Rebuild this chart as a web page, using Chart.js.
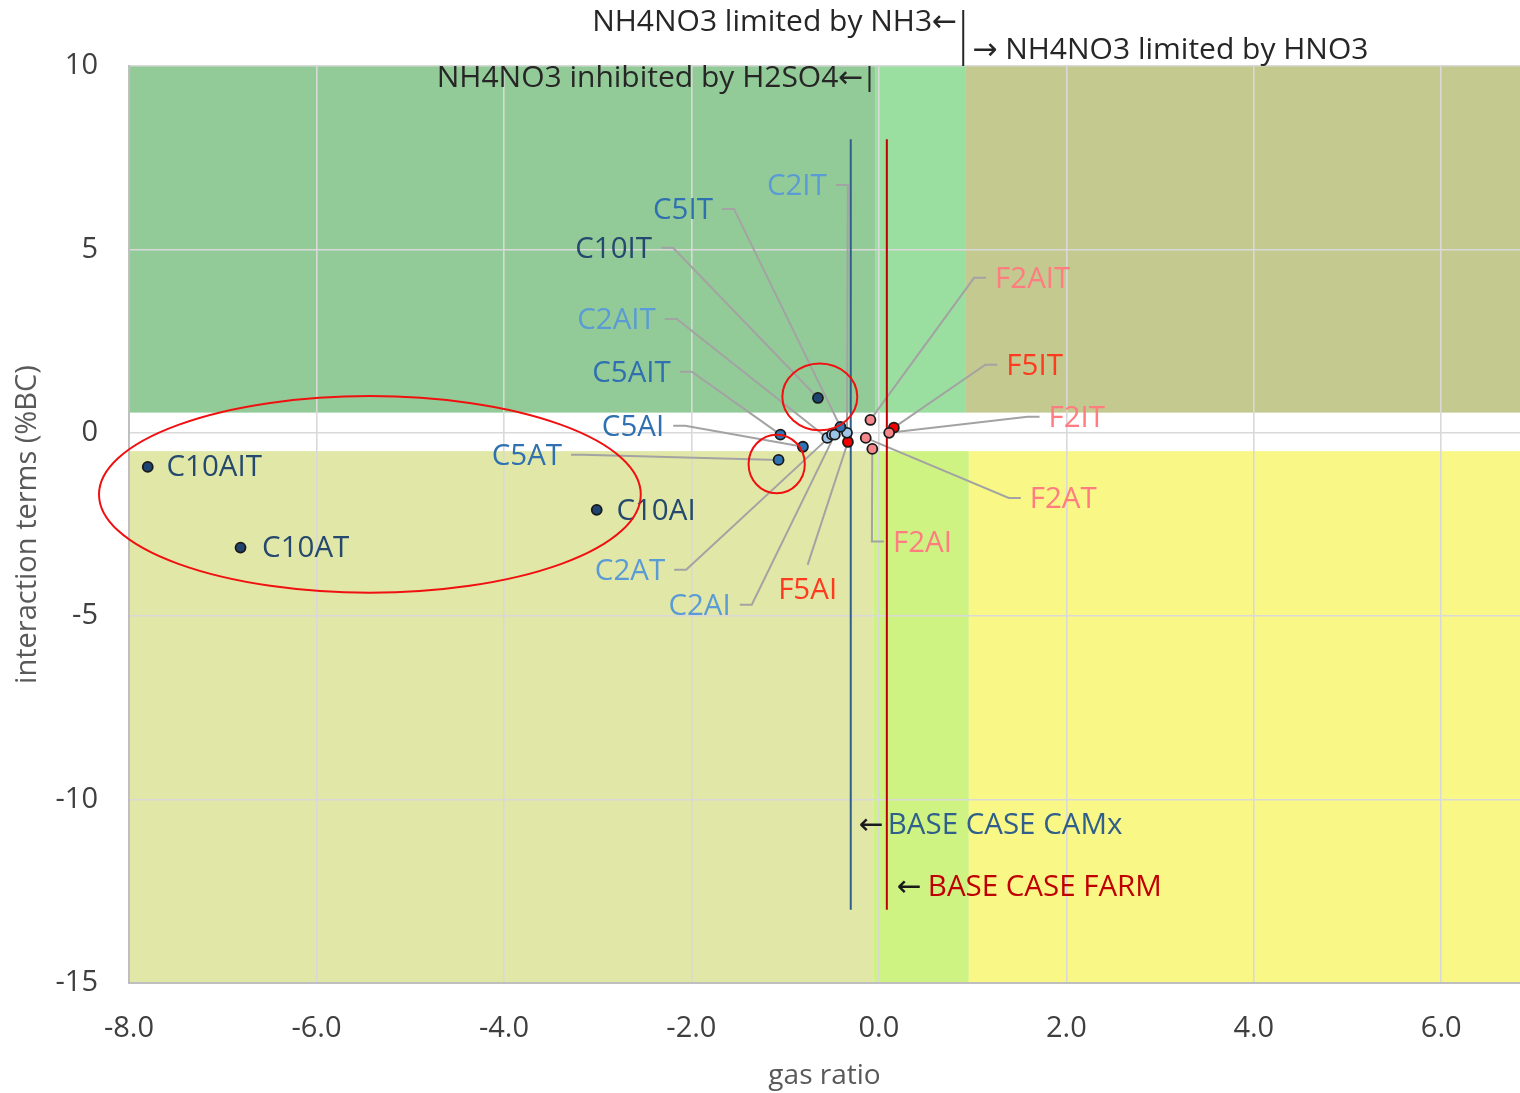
<!DOCTYPE html>
<html>
<head>
<meta charset="utf-8">
<script src="https://cdn.jsdelivr.net/npm/chart.js@4.4.1/dist/chart.umd.min.js"></script>
<style>
  html, body { margin: 0; padding: 0; background: #ffffff; }
  #wrap { width: 1520px; height: 1093px; }
</style>
</head>
<body>
<div id="wrap"><canvas id="chart" width="1520" height="1093"></canvas></div>
<script>
// Interaction terms (%BC) against gas ratio for the CAMx (C) and FARM (F) sensitivity runs
const c10Names = ['C10AIT', 'C10AT', 'C10AI', 'C10IT'];
const c10Gas   = [-7.80, -6.81, -3.01, -0.65];
const c10Int   = [-0.93, -3.13, -2.10, 0.95];

const c5Names = ['C5AT', 'C5AIT', 'C5AI', 'C5IT'];
const c5Gas   = [-1.07, -1.05, -0.81, -0.41];
const c5Int   = [-0.74, -0.05, -0.38, 0.16];

const c2Names = ['C2AIT', 'C2AT', 'C2AI', 'C2IT'];
const c2Gas   = [-0.55, -0.50, -0.47, -0.34];
const c2Int   = [-0.14, -0.05, -0.05, 0.00];

const f2Names = ['F2AIT', 'F2IT', 'F2AT', 'F2AI'];
const f2Gas   = [-0.09, 0.11, -0.14, -0.07];
const f2Int   = [0.35, 0.00, -0.14, -0.44];

const f5Names = ['F5IT', 'F5AI'];
const f5Gas   = [0.16, -0.33];
const f5Int   = [0.14, -0.25];

// Base case gas ratios
const baseCamxGas = -0.30;
const baseFarmGas = 0.085;
const baseLineInt = [8, -13];

// Axis ticks
const xTickValues = [-8, -6, -4, -2, 0, 2, 4, 6];
const yTickValues = [-15, -10, -5, 0, 5, 10];

// Regime boundaries on the gas-ratio axis
const h2so4Edge = -0.1;
const nh3HNO3Edge = 0.9;

// ---------------- styling and layout ----------------
const X_MIN = -8, X_MAX = 6.84, Y_MIN = -15, Y_MAX = 10;
const FONT = '"Open Sans", "DejaVu Sans", sans-serif';

const zones = [
  { x0: X_MIN, x1: -0.04, y0: 0.55, y1: Y_MAX, color: '#93CB98' },
  { x0: -0.04, x1: 0.92, y0: 0.55, y1: Y_MAX, color: '#9BDFA0' },
  { x0: 0.92, x1: X_MAX, y0: 0.55, y1: Y_MAX, color: '#C4C990' },
  { x0: X_MIN, x1: -0.06, y0: Y_MIN, y1: -0.5, color: '#E1E7A7' },
  { x0: -0.06, x1: 0.96, y0: Y_MIN, y1: -0.5, color: '#CEF383' },
  { x0: 0.96, x1: X_MAX, y0: Y_MIN, y1: -0.5, color: '#F9F785' }
];

const groups = [
  { names: c10Names, gas: c10Gas, val: c10Int, fill: '#1F4470', text: '#24486E' },
  { names: c5Names,  gas: c5Gas,  val: c5Int,  fill: '#2E74B5', text: '#2F70B0' },
  { names: c2Names,  gas: c2Gas,  val: c2Int,  fill: '#9DC3E6', text: '#5B9BD5' },
  { names: f2Names,  gas: f2Gas,  val: f2Int,  fill: '#F4878B', text: '#FF7C80' },
  { names: f5Names,  gas: f5Gas,  val: f5Int,  fill: '#F00000', text: '#FF3B1F' }
];

// Where each point name is written (data units); align tells which edge the anchor is
const labelSpots = {
  C2IT:   { x: -0.555, y: 6.70, align: 'right', lead: true },
  C5IT:   { x: -1.77,  y: 6.05, align: 'right', lead: true },
  C10IT:  { x: -2.42,  y: 4.99, align: 'right', lead: true },
  C2AIT:  { x: -2.38,  y: 3.05, align: 'right', lead: true },
  C5AIT:  { x: -2.22,  y: 1.61, align: 'right', lead: true },
  C5AI:   { x: -2.29,  y: 0.14, align: 'right', lead: true },
  C5AT:   { x: -3.38,  y: -0.65, align: 'right', lead: true },
  C2AT:   { x: -2.28,  y: -3.79, align: 'right', lead: true },
  C2AI:   { x: -1.58,  y: -4.74, align: 'right', lead: true },
  C10AIT: { x: -7.60,  y: -0.95, align: 'left', lead: false },
  C10AT:  { x: -6.58,  y: -3.16, align: 'left', lead: false },
  C10AI:  { x: -2.80,  y: -2.15, align: 'left', lead: false },
  F5AI:   { x: -0.76,  y: -4.31, align: 'center', lead: true },
  F2AI:   { x: 0.15,   y: -3.02, align: 'left', lead: true },
  F2AT:   { x: 1.61,   y: -1.83, align: 'left', lead: true },
  F2IT:   { x: 1.81,   y: 0.38, align: 'left', lead: true },
  F5IT:   { x: 1.36,   y: 1.80, align: 'left', lead: true },
  F2AIT:  { x: 1.24,   y: 4.17, align: 'left', lead: true }
};

// Highlight rings (data units)
const rings = [
  { cx: -5.43, cy: -1.68, rx: 2.89, ry: 2.68 },
  { cx: -0.63, cy: 0.98, rx: 0.40, ry: 0.91 },
  { cx: -1.09, cy: -0.85, rx: 0.30, ry: 0.80 }
];

const pointIndex = {};
groups.forEach(g => g.names.forEach((n, i) => {
  pointIndex[n] = { x: g.gas[i], y: g.val[i], color: g.text };
}));

const LABEL_FONT = '29.5px ' + FONT;
const NOTE_FONT = '30px ' + FONT;

const zonePlugin = {
  id: 'zones',
  beforeDraw(chart) {
    const { ctx, chartArea: a, scales: { x, y } } = chart;
    ctx.save();
    ctx.beginPath();
    ctx.rect(a.left, a.top, a.right - a.left, a.bottom - a.top);
    ctx.clip();
    zones.forEach(z => {
      const l = x.getPixelForValue(z.x0), r = x.getPixelForValue(z.x1);
      const t = y.getPixelForValue(z.y1), b = y.getPixelForValue(z.y0);
      ctx.fillStyle = z.color;
      ctx.fillRect(l, t, r - l, b - t);
    });
    ctx.restore();
  }
};

function labelBox(ctx, name, x, y) {
  const s = labelSpots[name];
  ctx.font = LABEL_FONT;
  const w = ctx.measureText(name).width;
  const px = x.getPixelForValue(s.x), py = y.getPixelForValue(s.y);
  let left;
  if (s.align === 'right') left = px - w;
  else if (s.align === 'center') left = px - w / 2;
  else left = px;
  return { left, right: left + w, cy: py, w, s };
}

const leaderPlugin = {
  id: 'leaders',
  beforeDatasetsDraw(chart) {
    const { ctx, scales: { x, y } } = chart;
    ctx.save();
    ctx.strokeStyle = '#A3A3A3';
    ctx.lineWidth = 2;
    Object.keys(labelSpots).forEach(name => {
      const b = labelBox(ctx, name, x, y);
      if (!b.s.lead) return;
      const p = pointIndex[name];
      const tx = x.getPixelForValue(p.x), ty = y.getPixelForValue(p.y);
      ctx.beginPath();
      if (b.s.align === 'center') {
        ctx.moveTo(b.left + b.w / 2, b.cy - 26);
        ctx.lineTo(tx, ty);
      } else {
        const sy = b.cy - 2;
        const dir = b.s.align === 'right' ? 1 : -1;
        const edge = b.s.align === 'right' ? b.right : b.left;
        const s0 = edge + dir * 9, s1 = edge + dir * 21;
        ctx.moveTo(s0, sy);
        ctx.lineTo(s1, sy);
        ctx.lineTo(tx, ty);
      }
      ctx.stroke();
    });
    ctx.restore();
  }
};

const notePlugin = {
  id: 'notes',
  afterDatasetsDraw(chart) {
    const { ctx, chartArea: a, scales: { x, y } } = chart;
    ctx.save();
    // point names
    ctx.textBaseline = 'middle';
    ctx.textAlign = 'left';
    Object.keys(labelSpots).forEach(name => {
      const b = labelBox(ctx, name, x, y);
      ctx.fillStyle = pointIndex[name].color;
      ctx.font = LABEL_FONT;
      ctx.fillText(name, b.left, b.cy);
    });

    // base case notes
    const camxX = x.getPixelForValue(baseCamxGas);
    const farmX = x.getPixelForValue(baseFarmGas);
    ctx.font = LABEL_FONT;
    ctx.fillStyle = '#1a1a1a';
    ctx.fillText('\u2190', camxX + 8, y.getPixelForValue(-10.71));
    ctx.fillText('\u2190', farmX + 10, y.getPixelForValue(-12.4));
    ctx.fillStyle = '#2F5F8A';
    ctx.fillText('BASE CASE CAMx', camxX + 37, y.getPixelForValue(-10.71));
    ctx.fillStyle = '#C00000';
    ctx.fillText('BASE CASE FARM', farmX + 41, y.getPixelForValue(-12.4));

    // regime notes
    const e1 = x.getPixelForValue(nh3HNO3Edge);
    const e2 = x.getPixelForValue(h2so4Edge);
    ctx.font = NOTE_FONT;
    ctx.fillStyle = '#262626';
    ctx.textAlign = 'right';
    ctx.fillText('NH4NO3 limited by NH3\u2190', e1 - 6, a.top - 44);
    ctx.textAlign = 'left';
    ctx.fillText('\u2192 NH4NO3 limited by HNO3', e1 + 9, a.top - 16);
    ctx.textAlign = 'right';
    ctx.fillText('NH4NO3 inhibited by H2SO4\u2190', e2 - 6, a.top + 12);
    ctx.strokeStyle = '#262626';
    ctx.lineWidth = 2;
    ctx.beginPath();
    ctx.moveTo(e1, a.top - 56); ctx.lineTo(e1, a.top);
    ctx.moveTo(e2, a.top); ctx.lineTo(e2, a.top + 26);
    ctx.stroke();

    // highlight rings
    ctx.strokeStyle = '#F01010';
    ctx.lineWidth = 2;
    rings.forEach(r => {
      const cx = x.getPixelForValue(r.cx), cy = y.getPixelForValue(r.cy);
      const rx = Math.abs(x.getPixelForValue(r.cx + r.rx) - cx);
      const ry = Math.abs(y.getPixelForValue(r.cy + r.ry) - cy);
      ctx.beginPath();
      ctx.ellipse(cx, cy, rx, ry, 0, 0, Math.PI * 2);
      ctx.stroke();
    });
    ctx.restore();
  }
};

const pointSets = groups.map(g => ({
  label: g.names.join(','),
  data: g.gas.map((v, i) => ({ x: v, y: g.val[i] })),
  backgroundColor: g.fill,
  borderColor: '#1a1a1a',
  borderWidth: 1.8,
  pointRadius: 5,
  order: 1
}));

const baseSets = [
  { label: 'BASE CASE CAMx', gas: baseCamxGas, color: '#2F5F8A' },
  { label: 'BASE CASE FARM', gas: baseFarmGas, color: '#C00000' }
].map(b => ({
  label: b.label,
  data: baseLineInt.map(v => ({ x: b.gas, y: v })),
  showLine: true,
  borderColor: b.color,
  borderWidth: 2,
  pointRadius: 0,
  order: 2
}));

new Chart(document.getElementById('chart'), {
  type: 'scatter',
  data: { datasets: pointSets.concat(baseSets) },
  options: {
    responsive: false,
    animation: false,
    devicePixelRatio: 1,
    layout: { autoPadding: false, padding: { top: 66, right: 0, left: 0, bottom: 0 } },
    plugins: { legend: { display: false }, tooltip: { enabled: false } },
    scales: {
      x: {
        type: 'linear',
        min: X_MIN, max: X_MAX,
        afterBuildTicks: s => { s.ticks = xTickValues.map(v => ({ value: v })); },
        afterFit: s => { s.height = 110; s.paddingLeft = 0; s.paddingRight = 0; },
        ticks: {
          callback: v => Number(v).toFixed(1),
          font: { family: FONT, size: 29 },
          color: '#3F3F3F',
          padding: 28,
          maxRotation: 0
        },
        grid: { color: '#D9D9D9', lineWidth: 1.6, drawTicks: false },
        border: { color: '#BFBFBF', width: 2 },
        title: {
          display: true, text: 'gas ratio',
          font: { family: FONT, size: 28 }, color: '#595959',
          padding: { top: 0, bottom: 0 }
        }
      },
      y: {
        type: 'linear',
        min: Y_MIN, max: Y_MAX,
        afterBuildTicks: s => { s.ticks = yTickValues.map(v => ({ value: v })); },
        afterFit: s => { s.width = 129; s.paddingTop = 0; s.paddingBottom = 0; },
        ticks: {
          callback: v => String(v),
          font: { family: FONT, size: 29 },
          color: '#3F3F3F',
          padding: 31
        },
        grid: { color: '#D9D9D9', lineWidth: 1.6, drawTicks: false },
        border: { color: '#BFBFBF', width: 2 },
        title: {
          display: true, text: 'interaction terms (%BC)',
          font: { family: FONT, size: 29 }, color: '#595959',
          padding: { top: 10, bottom: 0 }
        }
      }
    }
  },
  plugins: [zonePlugin, leaderPlugin, notePlugin]
});
</script>
</body>
</html>
